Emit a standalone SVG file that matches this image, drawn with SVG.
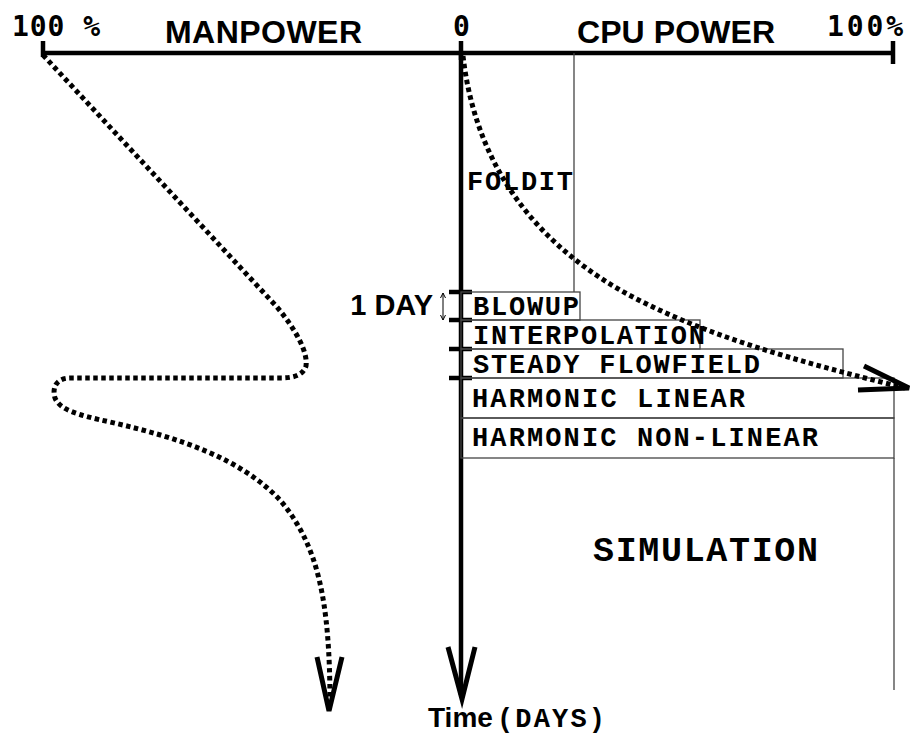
<svg xmlns="http://www.w3.org/2000/svg" width="911" height="735" viewBox="0 0 911 735">
<style>
.sans{font-family:"Liberation Sans",Arial,sans-serif;font-weight:bold;fill:#000}
.mono{font-family:"Courier New",Courier,"Nimbus Mono PS","Nimbus Mono L",FreeMono,"Liberation Mono",monospace;font-weight:bold;fill:#000}
.smono{font-family:"DejaVu Sans Mono",monospace;font-weight:bold;fill:#000}
.axis{stroke:#000;stroke-width:4.5;fill:none}
.tick{stroke:#000;stroke-width:4.5}
.box{fill:none;stroke:#444;stroke-width:1.3}
.dot{fill:none;stroke:#000;stroke-width:5;stroke-dasharray:4.5 3.5}
.head{fill:none;stroke:#000;stroke-width:5;stroke-linejoin:miter}
</style>
<rect width="911" height="735" fill="#fff"/>
<g id="axes">
  <line class="axis" x1="43" y1="53" x2="893" y2="53"/>
  <line class="tick" x1="43" y1="41" x2="43" y2="57"/>
  <line class="tick" x1="893" y1="41" x2="893" y2="64"/>
  <line class="tick" x1="461" y1="41" x2="461" y2="60"/>
  <line class="axis" x1="461" y1="53" x2="461" y2="695"/>
  <polyline class="head" points="448,647 462,699 475,647"/>
  <text class="smono" x="12" y="36" font-size="28" textLength="88">100 %</text>
  <text class="sans" x="165" y="43" font-size="32" textLength="197">MANPOWER</text>
  <text class="smono" x="453" y="36" font-size="28">0</text>
  <text class="sans" x="577" y="43" font-size="32" textLength="198">CPU POWER</text>
  <text class="smono" x="827" y="36" font-size="28" textLength="76">100%</text>
  <text class="sans" x="428" y="727" font-size="28">Time</text>
  <text class="mono" x="497" y="727" font-size="27" textLength="108">(DAYS)</text>
</g>
<g id="ticks">
  <line class="tick" x1="449" y1="292" x2="472" y2="292"/>
  <line class="tick" x1="449" y1="320" x2="472" y2="320"/>
  <line class="tick" x1="449" y1="349" x2="472" y2="349"/>
  <line class="tick" x1="449" y1="378" x2="472" y2="378"/>
  <line x1="443" y1="293" x2="443" y2="320" stroke="#000" stroke-width="1"/>
  <polyline points="440.5,298 443,293 445.5,298" fill="none" stroke="#000" stroke-width="1"/>
  <polyline points="440.5,315 443,320 445.5,315" fill="none" stroke="#000" stroke-width="1"/>
  <text class="sans" x="433" y="315" font-size="29" text-anchor="end">1 DAY</text>
</g>
<g id="foldit">
  <line class="box" x1="574" y1="53" x2="574" y2="292"/>
  <text class="mono" x="467" y="190" font-size="27" textLength="106">FOLDIT</text>
</g>
<g id="blowup">
  <rect class="box" x="461" y="292" width="119" height="28"/>
  <text class="mono" x="473" y="315" font-size="27" textLength="106">BLOWUP</text>
</g>
<g id="interpolation">
  <rect class="box" x="461" y="320" width="239" height="29"/>
  <text class="mono" x="473" y="344" font-size="27" textLength="232">INTERPOLATION</text>
</g>
<g id="steady">
  <rect class="box" x="461" y="349" width="382" height="29"/>
  <text class="mono" x="473" y="373" font-size="27" textLength="287">STEADY FLOWFIELD</text>
</g>
<g id="harmonic-linear">
  <rect class="box" x="461" y="378" width="433" height="40"/>
  <text class="mono" x="472" y="407" font-size="27" textLength="273">HARMONIC LINEAR</text>
</g>
<g id="harmonic-nonlinear">
  <rect class="box" x="461" y="418" width="433" height="40"/>
  <text class="mono" x="472" y="446" font-size="27" textLength="346">HARMONIC NON-LINEAR</text>
</g>
<g id="simulation">
  <line class="box" x1="894" y1="458" x2="894" y2="690"/>
  <text class="mono" x="593" y="561" font-size="35" textLength="225">SIMULATION</text>
</g>
<g id="connectors">
  <path class="dot" d="M43,55 L277,307 C296,330 308,352 306,366 C303,376 292,378 280,378 L70,378 C56,378 52,388 55,398 C60,410 78,415 110,422 C180,438 240,458 280,500 C318,545 330,600 330,705"/>
  <polyline class="head" points="317,657 329,711 342,657"/>
  <path class="dot" d="M463,56 C474,150 520,232 620,290 C700,335 800,362 905,388"/>
  <polyline class="head" points="864,366 909,388 858,390"/>
</g>
</svg>
